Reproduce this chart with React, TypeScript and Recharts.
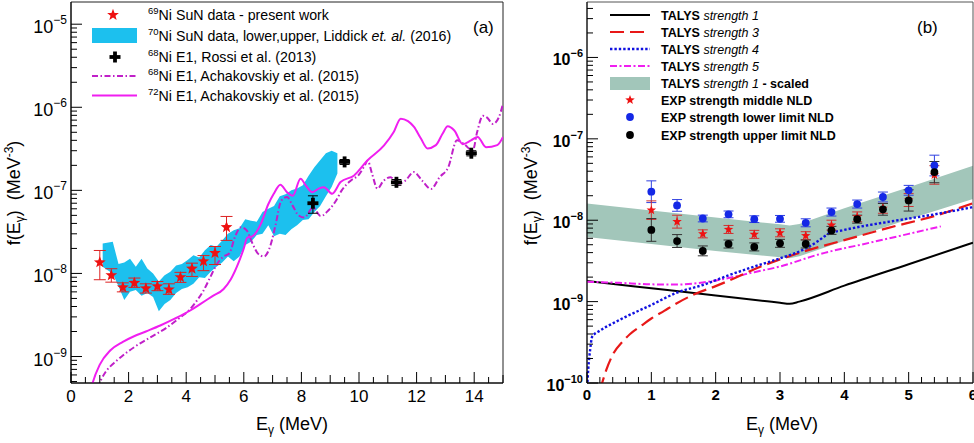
import React from 'react'
import { ComposedChart, Line, Area, Scatter, XAxis, YAxis, ErrorBar, ReferenceArea } from 'recharts'

const FONT = '"Liberation Sans", Arial, Helvetica, sans-serif'

// ---------- panel (a): Ni strength functions ----------
const A_YMIN = 4.8e-10
const A_YMAX = 1.85e-5

// 69Ni SuN data (present work)
const sunE = [1.0, 1.4, 1.8, 2.2, 2.6, 3.0, 3.4, 3.8, 4.2, 4.6, 5.0, 5.4]
const sunF = [1.36e-8, 9.5e-9, 6.8e-9, 7.7e-9, 6.6e-9, 7.0e-9, 6.4e-9, 9.0e-9, 1.14e-8, 1.4e-8, 1.76e-8, 3.6e-8]
const sunLo = [8.4e-9, 7.85e-9, 6.0e-9, 6.8e-9, 5.8e-9, 6.2e-9, 5.6e-9, 7.8e-9, 9.2e-9, 1.08e-8, 1.28e-8, 2.5e-8]
const sunHi = [1.89e-8, 1.14e-8, 7.7e-9, 8.8e-9, 7.5e-9, 8.0e-9, 7.5e-9, 1.03e-8, 1.33e-8, 1.64e-8, 2.11e-8, 4.85e-8]

// 70Ni SuN band, lower / upper
const liddickE = [1.1, 1.45, 1.65, 1.85, 2.05, 2.25, 2.45, 2.65, 2.85, 3.05, 3.25, 3.45, 3.65, 3.85, 4.05, 4.25, 4.45, 4.65, 4.85, 5.05, 5.25, 5.45, 5.65, 5.85, 6.05, 6.25, 6.45, 6.65, 6.85, 7.05, 7.25, 7.45, 7.65, 7.85, 8.05, 8.25, 8.45, 8.65, 8.85, 9.05, 9.25]
const liddickHi = [2.3e-8, 2.4e-8, 1.3e-8, 1.35e-8, 1.5e-8, 1.2e-8, 1.5e-8, 1.15e-8, 1.0e-8, 8.0e-9, 9.5e-9, 1.05e-8, 1.25e-8, 1.3e-8, 1.45e-8, 1.65e-8, 1.55e-8, 1.9e-8, 2.2e-8, 2.1e-8, 2.5e-8, 3.0e-8, 3.3e-8, 3.5e-8, 4.5e-8, 4.3e-8, 4.2e-8, 5.5e-8, 6.0e-8, 6.5e-8, 8.5e-8, 9.0e-8, 1.0e-7, 1.05e-7, 1.15e-7, 1.5e-7, 1.9e-7, 2.3e-7, 2.8e-7, 3.0e-7, 2.8e-7]
const liddickLo = [1.2e-8, 9.9e-9, 7.0e-9, 4.8e-9, 6.0e-9, 6.3e-9, 5.4e-9, 5.8e-9, 5.2e-9, 3.5e-9, 4.3e-9, 4.8e-9, 5.8e-9, 6.5e-9, 6.8e-9, 7.5e-9, 9.0e-9, 8.8e-9, 1.05e-8, 1.2e-8, 1.35e-8, 1.6e-8, 1.4e-8, 1.6e-8, 2.2e-8, 2.4e-8, 2.9e-8, 3.0e-8, 3.8e-8, 2.8e-8, 3.0e-8, 2.9e-8, 3.4e-8, 3.8e-8, 4.4e-8, 4.5e-8, 5.5e-8, 6.5e-8, 8.5e-8, 1.1e-7, 1.6e-7]

// 68Ni E1, Rossi et al.
const rossiE = [8.4, 9.5, 11.3, 13.9]
const rossiF = [7.0e-8, 2.2e-7, 1.25e-7, 2.8e-7]
const rossiLo = [5.3e-8, 2.05e-7, 1.15e-7, 2.6e-7]
const rossiHi = [8.6e-8, 2.35e-7, 1.35e-7, 3.0e-7]

// 68Ni E1, Achakovskiy et al.
const ach68E = [0.9, 1.2, 1.6, 2.2, 2.75, 3.3, 3.8, 4.1, 4.37, 4.6, 4.8, 5.07, 5.3, 5.5, 5.7, 5.9, 6.1, 6.3, 6.5, 6.7, 6.93, 7.1, 7.3, 7.5, 7.7, 7.9, 8.1, 8.4, 8.67, 8.95, 9.2, 9.4, 9.7, 10.0, 10.2, 10.3, 10.45, 10.64, 10.85, 11.1, 11.34, 11.6, 11.9, 12.2, 12.5, 12.8, 13.1, 13.4, 13.65, 13.95, 14.1, 14.3, 14.45, 14.65, 14.85, 15.0]
const ach68F = [4.2e-10, 6.5e-10, 9.0e-10, 1.3e-9, 1.7e-9, 2.2e-9, 2.97e-9, 3.6e-9, 4.7e-9, 6.2e-9, 8.5e-9, 1.3e-8, 1.6e-8, 1.75e-8, 2.8e-8, 3.6e-8, 3.3e-8, 2.3e-8, 1.72e-8, 1.6e-8, 2.2e-8, 3.8e-8, 7.5e-8, 8.3e-8, 6.5e-8, 5.0e-8, 4.7e-8, 6.2e-8, 4.9e-8, 5.8e-8, 7.5e-8, 1.0e-7, 1.3e-7, 1.55e-7, 2.0e-7, 2.29e-7, 1.6e-7, 1.05e-7, 1.3e-7, 1.44e-7, 1.2e-7, 1.3e-7, 1.66e-7, 1.3e-7, 1.04e-7, 1.44e-7, 1.9e-7, 4.0e-7, 3.6e-7, 3.0e-7, 5.0e-7, 7.9e-7, 7.5e-7, 6.3e-7, 7.5e-7, 1.1e-6]

// 72Ni E1, Achakovskiy et al.
const ach72E = [0.65, 0.75, 1.0, 1.36, 1.8, 2.17, 2.6, 3.1, 3.6, 4.14, 4.5, 4.9, 5.3, 5.55, 5.8, 6.0, 6.12, 6.3, 6.45, 6.6, 6.85, 7.04, 7.27, 7.5, 7.7, 7.97, 8.15, 8.38, 8.6, 8.78, 9.07, 9.36, 9.83, 10.29, 10.87, 11.2, 11.45, 11.7, 11.91, 12.15, 12.38, 12.67, 12.9, 13.08, 13.31, 13.6, 13.89, 14.12, 14.41, 14.8, 15.0]
const ach72F = [3.5e-10, 4.8e-10, 8.0e-10, 1.18e-9, 1.5e-9, 1.74e-9, 2.0e-9, 2.36e-9, 2.85e-9, 3.58e-9, 4.3e-9, 5.3e-9, 6.5e-9, 8.5e-9, 1.3e-8, 2.0e-8, 2.7e-8, 2.8e-8, 3.2e-8, 4.0e-8, 6.8e-8, 9.1e-8, 1.17e-7, 9.5e-8, 8.6e-8, 1.38e-7, 1.15e-7, 9.5e-8, 1.05e-7, 1.09e-7, 9.1e-8, 1.26e-7, 1.51e-7, 2.29e-7, 3.47e-7, 5.0e-7, 7.3e-7, 6.8e-7, 5.8e-7, 4.2e-7, 3.2e-7, 3.5e-7, 4.8e-7, 5.9e-7, 5.25e-7, 3.6e-7, 4.0e-7, 4.4e-7, 3.3e-7, 3.5e-7, 4.4e-7]

// ---------- panel (b): TALYS vs experiment ----------
const B_YMIN = 1e-10
const B_YMAX = 4.8e-6

const expE = [1.0, 1.4, 1.8, 2.2, 2.6, 3.0, 3.4, 3.8, 4.2, 4.6, 5.0, 5.4]
const midF = [1.33e-8, 9.6e-9, 6.8e-9, 7.7e-9, 6.7e-9, 7.0e-9, 6.45e-9, 8.7e-9, 1.1e-8, 1.4e-8, 1.77e-8, 3.6e-8]
const midErr = [0.3, 0.2, 0.12, 0.12, 0.12, 0.12, 0.12, 0.15, 0.15, 0.15, 0.2, 0.3]
const lowF = [2.24e-8, 1.52e-8, 1.05e-8, 1.18e-8, 1.03e-8, 1.04e-8, 9.3e-9, 1.26e-8, 1.58e-8, 1.93e-8, 2.33e-8, 4.7e-8]
const lowErr = [0.36, 0.18, 0.1, 0.1, 0.1, 0.1, 0.12, 0.12, 0.12, 0.15, 0.15, 0.34]
const uppF = [7.6e-9, 5.55e-9, 4.2e-9, 5.1e-9, 4.7e-9, 5.2e-9, 5.1e-9, 7.5e-9, 1.03e-8, 1.36e-8, 1.75e-8, 3.9e-8]
const uppErr = [0.38, 0.2, 0.15, 0.12, 0.12, 0.12, 0.12, 0.12, 0.12, 0.18, 0.35, 0.35]

const s1E = [0, 1, 2, 2.8, 3.0, 3.15, 3.3, 4, 5, 6]
const s1F = [1.79e-9, 1.46e-9, 1.19e-9, 1.01e-9, 9.7e-10, 9.4e-10, 1.0e-9, 1.57e-9, 2.88e-9, 5.3e-9]

const s3E = [0.2, 0.3, 0.41, 0.55, 0.67, 0.85, 1.0, 1.2, 1.39, 1.68, 2.0, 2.3, 2.6, 3.0, 3.4, 4.0, 4.67, 5.44, 6.0]
const s3F = [8e-11, 1.45e-10, 2.3e-10, 3.2e-10, 4.0e-10, 5.1e-10, 6.2e-10, 7.7e-10, 9.5e-10, 1.24e-9, 1.55e-9, 1.95e-9, 2.5e-9, 3.3e-9, 4.2e-9, 5.7e-9, 8.0e-9, 1.15e-8, 1.62e-8]

const s4E = [0, 0.02, 0.05, 0.08, 0.2, 0.4, 0.6, 1.0, 1.4, 1.8, 2.2, 2.6, 3.0, 3.4, 3.6, 3.75, 4.0, 4.7, 5.4, 6.0]
const s4F = [8e-11, 1.5e-10, 2.6e-10, 3.7e-10, 4.4e-10, 5.4e-10, 6.5e-10, 9.1e-10, 1.29e-9, 1.6e-9, 2.1e-9, 2.7e-9, 3.4e-9, 4.5e-9, 5.6e-9, 6.8e-9, 7.6e-9, 9.6e-9, 1.18e-8, 1.45e-8]

const s5E = [0, 0.5, 1.0, 1.4, 1.8, 2.2, 2.6, 3.0, 3.6, 4.4, 5.0, 5.5]
const s5F = [1.76e-9, 1.7e-9, 1.63e-9, 1.62e-9, 1.72e-9, 1.95e-9, 2.3e-9, 2.7e-9, 3.8e-9, 5.3e-9, 6.8e-9, 8.4e-9]

// strength 1, scaled band
const scaledE = [0, 1, 2, 3.0, 3.15, 3.3, 4, 5, 6]
const scaledHi = [1.61e-8, 1.32e-8, 1.08e-8, 8.9e-9, 8.6e-9, 9.0e-9, 1.4e-8, 2.55e-8, 4.67e-8]
const scaledLo = [6.2e-9, 5.1e-9, 4.2e-9, 3.5e-9, 3.4e-9, 3.6e-9, 5.6e-9, 1.03e-8, 1.82e-8]

// ---------- helpers ----------
const rows = (xs: number[], ys: number[]) => xs.map((x, i) => ({ x, y: ys[i] }))
const bandRows = (xs: number[], lo: number[], hi: number[]) => xs.map((x, i) => ({ x, band: [lo[i], hi[i]] }))
const errRows = (xs: number[], ys: number[], lo: number[], hi: number[]) =>
  xs.map((x, i) => ({ x, y: ys[i], err: [ys[i] - lo[i], hi[i] - ys[i]] }))
const relErrRows = (xs: number[], ys: number[], rel: number[]) =>
  xs.map((x, i) => ({ x, y: ys[i], err: [ys[i] - ys[i] / (1 + rel[i]), ys[i] * rel[i]] }))

function logTicks(lo: number, hi: number) {
  const out: number[] = []
  for (let e = Math.floor(Math.log10(lo)); e <= Math.ceil(Math.log10(hi)); e++) {
    for (let m = 1; m <= 9; m++) {
      const v = m * Math.pow(10, e)
      if (v >= lo * 0.999 && v <= hi * 1.001) out.push(v)
    }
  }
  return out
}
const isDecade = (v: number) => Math.abs(Math.log10(v) - Math.round(Math.log10(v))) < 1e-6

const xTicksA = Array.from({ length: 31 }, (_, i) => i / 2)
const xTicksB = Array.from({ length: 31 }, (_, i) => Math.round(i * 2) / 10)
const yTicksA = logTicks(A_YMIN, A_YMAX)
const yTicksB = logTicks(B_YMIN, B_YMAX)

const YTick = (props: any) => {
  const { x, y, payload, bold } = props
  const v = payload.value
  const major = isDecade(v)
  const len = major ? 11 : 6
  const exp = Math.round(Math.log10(v))
  return (
    <g>
      <line x1={x} x2={x + len} y1={y} y2={y} stroke="#000" strokeWidth={1} />
      {major && (
        <text x={x - 4} y={y + (bold ? 8 : 9)} textAnchor="end" fontFamily={FONT}
          fontSize={bold ? 16 : 18} fontWeight={bold ? 'bold' : 'normal'} fill="#000">
          10<tspan dy={bold ? -8 : -9} fontSize={bold ? 11 : 12}>{'\u2212' + Math.abs(exp)}</tspan>
        </text>
      )}
    </g>
  )
}

const XTick = (props: any) => {
  const { x, y, payload, panel } = props
  const v = payload.value
  const major = panel === 'a' ? v % 2 === 0 : Number.isInteger(v)
  const len = major ? 11 : panel === 'a' && Number.isInteger(v) ? 8 : 6
  const bold = panel === 'b'
  return (
    <g>
      <line x1={x} x2={x} y1={y} y2={y - len} stroke="#000" strokeWidth={1} />
      {major && (
        <text x={x} y={y + (bold ? 17 : 19)} textAnchor="middle" fontFamily={FONT}
          fontSize={bold ? 15 : 17} fontWeight={bold ? 'bold' : 'normal'} fill="#000">
          {String(v)}
        </text>
      )}
    </g>
  )
}

function starPoints(cx: number, cy: number, R: number, r: number) {
  const pts: string[] = []
  for (let k = 0; k < 10; k++) {
    const a = -Math.PI / 2 + (k * Math.PI) / 5
    const rad = k % 2 === 0 ? R : r
    pts.push(`${cx + rad * Math.cos(a)},${cy + rad * Math.sin(a)}`)
  }
  return pts.join(' ')
}

const StarA = (p: any) => <polygon points={starPoints(p.cx, p.cy, 6.2, 2.6)} fill="#ee1111" />
const StarB = (p: any) => <polygon points={starPoints(p.cx, p.cy, 5, 2.1)} fill="#ee1111" />
const Cross = (p: any) => (
  <g fill="#000">
    <rect x={p.cx - 5.5} y={p.cy - 1.9} width={11} height={3.8} />
    <rect x={p.cx - 1.9} y={p.cy - 5.5} width={3.8} height={11} />
  </g>
)
const BlueDot = (p: any) => <circle cx={p.cx} cy={p.cy} r={3.9} fill="#1428e6" />
const BlackDot = (p: any) => <circle cx={p.cx} cy={p.cy} r={3.9} fill="#000" />

const CYAN = '#1cc0ee'
const SAGE = '#a2c6ba'
const MAG = '#f01ef0'
const PURPLE = '#c020c8'

function PanelA() {
  return (
    <ComposedChart width={510} height={443} data={bandRows(liddickE, liddickLo, liddickHi)}
      margin={{ top: 2, right: 7, bottom: 0, left: 11 }}>
      <XAxis type="number" dataKey="x" domain={[0, 15]} ticks={xTicksA} interval={0} allowDataOverflow
        height={60} tickSize={0} tickMargin={0} tickLine={false} axisLine={{ stroke: '#000' }}
        tick={(p: any) => <XTick {...p} panel="a" />} />
      <YAxis type="number" dataKey="y" scale="log" domain={[A_YMIN, A_YMAX]} ticks={yTicksA} interval={0}
        allowDataOverflow width={60} tickSize={0} tickMargin={0} tickLine={false} axisLine={{ stroke: '#000' }}
        tick={(p: any) => <YTick {...p} />} />
      <Area dataKey="band" type="linear" stroke="none" fill={CYAN} fillOpacity={1} isAnimationActive={false} />
      <Line data={rows(ach68E, ach68F)} dataKey="y" type="monotone" stroke={PURPLE} strokeWidth={2}
        strokeDasharray="6 2.5 1.5 2.5" dot={false} isAnimationActive={false} />
      <Line data={rows(ach72E, ach72F)} dataKey="y" type="monotone" stroke={MAG} strokeWidth={2}
        dot={false} isAnimationActive={false} />
      <Scatter data={errRows(sunE, sunF, sunLo, sunHi)} dataKey="y" shape={StarA} isAnimationActive={false}>
        <ErrorBar dataKey="err" direction="y" width={6} stroke="#dd2222" strokeWidth={1} />
      </Scatter>
      <Scatter data={errRows(rossiE, rossiF, rossiLo, rossiHi)} dataKey="y" shape={Cross} isAnimationActive={false}>
        <ErrorBar dataKey="err" direction="y" width={5} stroke="#000" strokeWidth={1} />
      </Scatter>
      <ReferenceArea x1={0} x2={15} y1={A_YMIN} y2={A_YMAX} fill="none" stroke="#222" strokeWidth={1} />
    </ComposedChart>
  )
}

function PanelB() {
  return (
    <ComposedChart width={464} height={443} data={bandRows(scaledE, scaledLo, scaledHi)}
      margin={{ top: 2, right: 1, bottom: 0, left: 17 }}>
      <XAxis type="number" dataKey="x" domain={[0, 6]} ticks={xTicksB} interval={0} allowDataOverflow
        height={60} tickSize={0} tickMargin={0} tickLine={false} axisLine={{ stroke: '#000' }}
        tick={(p: any) => <XTick {...p} panel="b" />} />
      <YAxis type="number" dataKey="y" scale="log" domain={[B_YMIN, B_YMAX]} ticks={yTicksB} interval={0}
        allowDataOverflow width={60} tickSize={0} tickMargin={0} tickLine={false} axisLine={{ stroke: '#000' }}
        tick={(p: any) => <YTick {...p} bold />} />
      <Area dataKey="band" type="linear" stroke="none" fill={SAGE} fillOpacity={1} isAnimationActive={false} />
      <Line data={rows(s1E, s1F)} dataKey="y" type="monotone" stroke="#000" strokeWidth={2}
        dot={false} isAnimationActive={false} />
      <Line data={rows(s5E, s5F)} dataKey="y" type="monotone" stroke={MAG} strokeWidth={2}
        strokeDasharray="7 2.5 2 2.5" dot={false} isAnimationActive={false} />
      <Line data={rows(s3E, s3F)} dataKey="y" type="monotone" stroke="#e81818" strokeWidth={2.2}
        strokeDasharray="14 6" dot={false} isAnimationActive={false} />
      <Line data={rows(s4E, s4F)} dataKey="y" type="monotone" stroke="#1010e0" strokeWidth={2.4}
        strokeDasharray="2.4 2" dot={false} isAnimationActive={false} />
      <Scatter data={relErrRows(expE, lowF, lowErr)} dataKey="y" shape={BlueDot} isAnimationActive={false}>
        <ErrorBar dataKey="err" direction="y" width={5} stroke="#3040e0" strokeWidth={1} />
      </Scatter>
      <Scatter data={relErrRows(expE, midF, midErr)} dataKey="y" shape={StarB} isAnimationActive={false}>
        <ErrorBar dataKey="err" direction="y" width={5} stroke="#cc3333" strokeWidth={1} />
      </Scatter>
      <Scatter data={relErrRows(expE, uppF, uppErr)} dataKey="y" shape={BlackDot} isAnimationActive={false}>
        <ErrorBar dataKey="err" direction="y" width={5} stroke="#333" strokeWidth={1} />
      </Scatter>
      <ReferenceArea x1={0} x2={6} y1={B_YMIN} y2={B_YMAX} fill="none" stroke="#555" strokeWidth={1} />
    </ComposedChart>
  )
}

const legendA = [
  { iso: '69', text: 'Ni SuN data - present work' },
  { iso: '70', text: 'Ni SuN data, lower,upper, Liddick ', ital: 'et. al.', tail: ' (2016)' },
  { iso: '68', text: 'Ni E1, Rossi et al. (2013)' },
  { iso: '68', text: 'Ni E1, Achakovskiy et al. (2015)' },
  { iso: '72', text: 'Ni E1, Achakovskiy et al. (2015)' },
]
const legendB = [
  { n: '1', extra: '' },
  { n: '3', extra: '' },
  { n: '4', extra: '' },
  { n: '5', extra: '' },
  { n: '1', extra: ' - scaled' },
]
const legendBExp = ['EXP strength middle NLD', 'EXP strength lower limit NLD', 'EXP strength upper limit NLD']

function Overlay() {
  const rowA = [15, 35.5, 57, 76, 95.5]
  const rowB = [15, 32, 49, 66, 83, 100, 117, 135]
  const sub = { fontSize: 12 }
  return (
    <svg width={974} height={443} style={{ position: 'absolute', left: 0, top: 0, pointerEvents: 'none' }}
      fontFamily={FONT}>
      {/* legend (a) */}
      <polygon points={starPoints(113, rowA[0], 6.2, 2.6)} fill="#ee1111" />
      <rect x={92} y={28} width={45} height={15} fill={CYAN} />
      <rect x={109.5} y={rowA[2] - 1.9} width={11} height={3.8} fill="#000" />
      <rect x={113.1} y={rowA[2] - 5.5} width={3.8} height={11} fill="#000" />
      <line x1={92} x2={137} y1={rowA[3]} y2={rowA[3]} stroke={PURPLE} strokeWidth={2} strokeDasharray="6 2.5 1.5 2.5" />
      <line x1={92} x2={137} y1={rowA[4]} y2={rowA[4]} stroke={MAG} strokeWidth={2} />
      {legendA.map((r, i) => (
        <text key={i} x={148} y={rowA[i] + 5} fontSize={14.2} fill="#000">
          <tspan fontSize={9.5} dy={-6}>{r.iso}</tspan>
          <tspan dy={6}>{r.text}</tspan>
          {r.ital && <tspan fontStyle="italic">{r.ital}</tspan>}
          {r.tail && <tspan>{r.tail}</tspan>}
        </text>
      ))}
      <text x={473} y={33} fontSize={17} fill="#000">(a)</text>

      {/* legend (b) */}
      <line x1={610} x2={650} y1={rowB[0]} y2={rowB[0]} stroke="#000" strokeWidth={2} />
      <line x1={610} x2={650} y1={rowB[1]} y2={rowB[1]} stroke="#e81818" strokeWidth={2.2} strokeDasharray="14 6" />
      <line x1={610} x2={650} y1={rowB[2]} y2={rowB[2]} stroke="#1010e0" strokeWidth={2.4} strokeDasharray="2.4 2" />
      <line x1={610} x2={650} y1={rowB[3]} y2={rowB[3]} stroke={MAG} strokeWidth={2} strokeDasharray="7 2.5 2 2.5" />
      <rect x={610} y={77} width={40} height={13} fill={SAGE} />
      <polygon points={starPoints(630, rowB[5], 5, 2.1)} fill="#ee1111" />
      <circle cx={630} cy={rowB[6]} r={3.9} fill="#1428e6" />
      <circle cx={630} cy={rowB[7]} r={3.9} fill="#000" />
      {legendB.map((r, i) => (
        <text key={i} x={661} y={rowB[i] + 4.5} fontSize={12.5} fill="#000" style={{ whiteSpace: 'pre' }}>
          <tspan fontWeight="bold">TALYS </tspan>
          <tspan fontStyle="italic">{'strength ' + r.n}</tspan>
          {r.extra && <tspan fontWeight="bold">{r.extra}</tspan>}
        </text>
      ))}
      {legendBExp.map((t, i) => (
        <text key={t} x={661} y={rowB[5 + i] + 4.5} fontSize={12.5} fontWeight="bold" fill="#000">{t}</text>
      ))}
      <text x={917} y={33} fontSize={17} fill="#000">(b)</text>

      {/* axis titles */}
      {[292, 782].map((cx) => (
        <text key={cx} x={cx} y={430} textAnchor="middle" fontSize={18} fill="#000">
          E<tspan dy={4} style={sub}>{'\u03b3'}</tspan><tspan dy={-4}> (MeV)</tspan>
        </text>
      ))}
      {[20, 537].map((bx) => (
        <text key={bx} transform={`translate(${bx},193) rotate(-90)`} textAnchor="middle" fontSize={18}
          fill="#000" style={{ whiteSpace: 'pre' }}>
          f(E<tspan dy={4} style={sub}>{'\u03b3'}</tspan><tspan dy={-4}>{')  (MeV'}</tspan>
          <tspan dy={-7} style={sub}>-3</tspan><tspan dy={7}>)</tspan>
        </text>
      ))}
    </svg>
  )
}

export default function App() {
  return (
    <div style={{ position: 'absolute', left: 0, top: 0, width: 974, height: 443, background: '#fff', overflow: 'hidden' }}>
      <div style={{ position: 'absolute', left: 0, top: 0 }}>
        <PanelA />
      </div>
      <div style={{ position: 'absolute', left: 510, top: 0 }}>
        <PanelB />
      </div>
      <Overlay />
    </div>
  )
}
